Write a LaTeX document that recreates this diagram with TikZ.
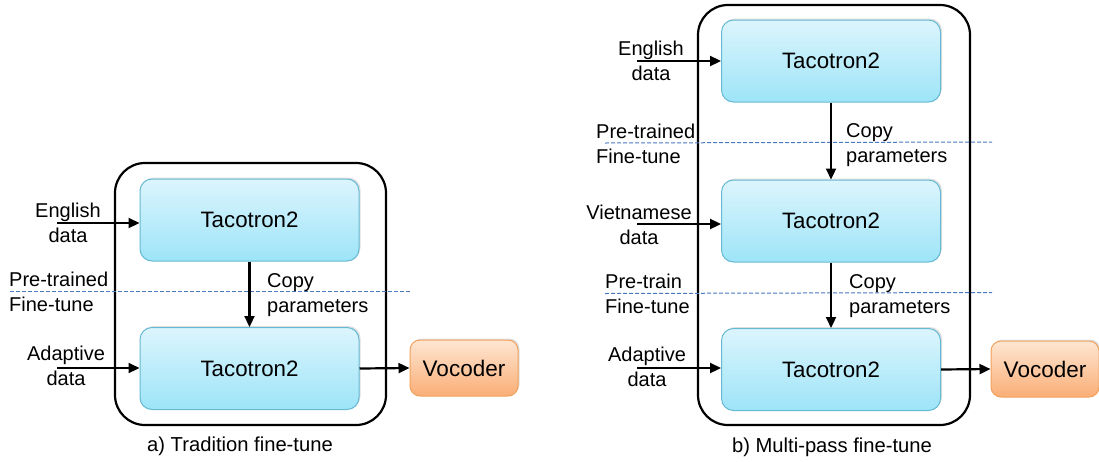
\documentclass[tikz,border=0pt]{standalone}
\usepackage{fontspec}
\setmainfont{Liberation Sans}
\usetikzlibrary{arrows.meta,shadows}
\definecolor{tacoTop}{HTML}{DCF5FD}
\definecolor{tacoBot}{HTML}{9DE4F8}
\definecolor{tacoLine}{HTML}{66B9D3}
\definecolor{vocTop}{HTML}{FEE6D2}
\definecolor{vocBot}{HTML}{FAAE76}
\definecolor{vocLine}{HTML}{F2A15C}
\definecolor{dashBlue}{HTML}{4A78C2}
\tikzset{
  taco/.style={draw=tacoLine, line width=1pt, rounded corners=12pt,
    top color=tacoTop, bottom color=tacoBot,
    drop shadow={shadow xshift=1.5pt, shadow yshift=1.5pt, opacity=0.25},
    minimum width=219pt, minimum height=82pt, inner sep=0pt,
    font=\fontsize{22.3}{26}\selectfont},
  voc/.style={draw=vocLine, line width=1pt, rounded corners=10pt,
    top color=vocTop, bottom color=vocBot,
    drop shadow={shadow xshift=1.5pt, shadow yshift=1.5pt, opacity=0.25},
    minimum width=108pt, minimum height=56pt, inner sep=0pt,
    font=\fontsize{22.5}{26}\selectfont},
  outer/.style={draw=black, line width=2.2pt, rounded corners=30pt},
  lbl/.style={align=center, inner sep=0pt, font=\fontsize{20}{25.5}\selectfont},
  lbll/.style={align=left, inner sep=0pt, anchor=west, font=\fontsize{20}{25}\selectfont},
  captext/.style={inner sep=0pt, font=\fontsize{20.2}{24}\selectfont},
  arr/.style={line width=2.2pt, -{Triangle[length=11pt,width=10pt]}},
  sep/.style={draw=dashBlue, line width=1pt, dash pattern=on 4pt off 2pt},
}
\begin{document}
\begin{tikzpicture}[x=1pt,y=-1pt]
\useasboundingbox (0,0) rectangle (1099,461);

% ---------- panel a ----------
\draw[outer] (115,163) rectangle (386,425);
\node[taco] (a1) at (249.5,220) {Tacotron2};
\node[taco] (a2) at (249.5,368.5) {Tacotron2};
\node[voc] (av) at (464,368) {Vocoder};
\coordinate (aEin) at (57,223);
\coordinate (aAin) at (57,368);
\coordinate (aL) at (10,291.5);
\coordinate (aR) at (410,291.5);
\draw[sep] (aL) -- (aR);
\node[lbl] (aE) at (68,223) {English\\data};
\node[lbl] (aA) at (66,366) {Adaptive\\data};
\node[lbll] (aPF) at (9,292) {Pre-trained\\Fine-tune};
\node[lbll] (aCP) at (267,295) {Copy\\parameters};
\draw[arr] (aEin) -- (a1.west |- aEin);
\draw[arr] (aAin) -- (a2.west |- aAin);
\draw[arr] (a1.south) -- (a2.north);
\draw[arr] (a2.east) -- (av.west);
\node[captext] (acap) at (240,446) {a) Tradition fine-tune};

% ---------- panel b ----------
\draw[outer] (698,5) rectangle (970,425);
\node[taco] (b1) at (831,61) {Tacotron2};
\node[taco] (b2) at (831,221) {Tacotron2};
\node[taco] (b3) at (831,369.5) {Tacotron2};
\node[voc] (bv) at (1045,369) {Vocoder};
\coordinate (bEin) at (637,61);
\coordinate (bVin) at (637,224);
\coordinate (bAin) at (637,368);
\coordinate (bL1) at (605,143);
\coordinate (bR1) at (992,142);
\coordinate (bL2) at (605,293.5);
\coordinate (bR2) at (992,292.5);
\draw[sep] (bL1) -- (bR1);
\draw[sep] (bL2) -- (bR2);
\node[lbl] (bE) at (651,61) {English\\data};
\node[lbl] (bV) at (639,225) {Vietnamese\\data};
\node[lbl] (bA) at (647,367) {Adaptive\\data};
\node[lbll] (bPF1) at (596,144) {Pre-trained\\Fine-tune};
\node[lbll] (bPF2) at (605,294) {Pre-train\\Fine-tune};
\node[lbll] (bCP1) at (846,145) {Copy\\parameters};
\node[lbll] (bCP2) at (849,296) {Copy\\parameters};
\draw[arr] (bEin) -- (b1.west |- bEin);
\draw[arr] (bVin) -- (b2.west |- bVin);
\draw[arr] (bAin) -- (b3.west |- bAin);
\draw[arr] (b1.south) -- (b2.north);
\draw[arr] (b2.south) -- (b3.north);
\draw[arr] (b3.east) -- (bv.west);
\node[captext] (bcap) at (832,447) {b) Multi-pass fine-tune};
\end{tikzpicture}
\end{document}
